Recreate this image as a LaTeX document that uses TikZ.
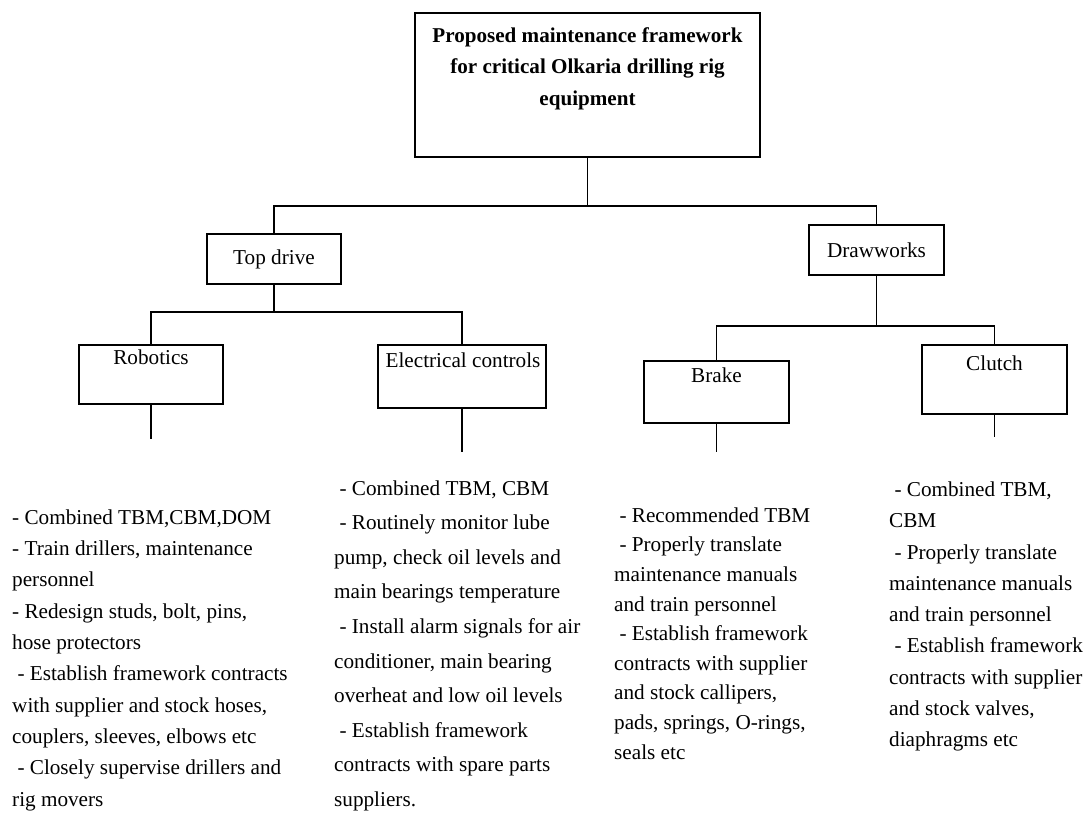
\documentclass[tikz,border=0pt]{standalone}
\usepackage{fontspec}
\setmainfont{Liberation Serif}
\begin{document}
\begin{tikzpicture}[x=1pt,y=-1pt,
  box/.style={draw,line width=1.8pt,inner sep=0pt},
  conn/.style={line width=1.8pt},
  lbl/.style={inner sep=0pt,font=\fontsize{21.2}{25}\selectfont},
  col/.style={inner sep=0pt,align=left,anchor=base west}]
\useasboundingbox (0,0) rectangle (1088,812);
% boxes
\node[box,minimum width=345pt,minimum height=144pt] (root) at (587.5,85) {};
\node[inner sep=0pt,anchor=base,align=center,font=\fontsize{21.1}{31.5}\selectfont\bfseries] (roott) at (587.5,105)
  {Proposed maintenance framework\\for critical Olkaria drilling rig\\equipment};
\node[box,minimum width=134pt,minimum height=50pt] (td) at (274,259) {};
\node[lbl] (tdt) at (td.center) {Top drive};
\node[box,minimum width=135pt,minimum height=50pt] (dw) at (876.5,250) {};
\node[lbl] (dwt) at (dw.center) {Drawworks};
\node[box,minimum width=144pt,minimum height=59pt] (rob) at (151,374.5) {};
\node[lbl,anchor=base] (robt) at (151,364) {Robotics};
\node[box,minimum width=168pt,minimum height=63pt] (ele) at (462,376.5) {};
\node[lbl,anchor=base] (elet) at (463,367) {Electrical controls};
\node[box,minimum width=145pt,minimum height=62pt] (brk) at (716.5,392) {};
\node[lbl,anchor=base] (brkt) at (716.5,382) {Brake};
\node[box,minimum width=145pt,minimum height=69pt] (clu) at (994.5,379.5) {};
\node[lbl,anchor=base] (clut) at (994.5,370) {Clutch};
% junctions
\coordinate (j0) at (587.5,206);
\coordinate (j1) at (274,312);
\coordinate (j2) at (876.5,326);
\coordinate (e1) at (151,439);
\coordinate (e2) at (462,452);
\coordinate (e3) at (716.5,452);
\coordinate (e4) at (994.5,437);
% connectors
\draw[conn] (root.south) -- (j0);
\draw[conn] (td.north) |- (j0) -| (dw.north);
\draw[conn] (td.south) -- (j1);
\draw[conn] (rob.north) |- (j1) -| (ele.north);
\draw[conn] (dw.south) -- (j2);
\draw[conn] (brk.north) |- (j2) -| (clu.north);
\draw[conn] (rob.south) -- (e1);
\draw[conn] (ele.south) -- (e2);
\draw[conn] (brk.south) -- (e3);
\draw[conn] (clu.south) -- (e4);
% text columns (anchored at the baseline of the last line)
\node[col,font=\fontsize{21.2}{31.3}\selectfont] (c1) at (12,806) {%
- Combined TBM,CBM,DOM\\
- Train drillers, maintenance\\
personnel\\
- Redesign studs, bolt, pins,\\
hose protectors\\
\ - Establish framework contracts\\
with supplier and stock hoses,\\
couplers, sleeves, elbows etc\\
\ - Closely supervise drillers and\\
rig movers};
\node[col,font=\fontsize{21.2}{34.6}\selectfont] (c2) at (334,806.5) {%
\ - Combined TBM, CBM\\
\ - Routinely monitor lube\\
pump, check oil levels and\\
main bearings temperature\\
\ - Install alarm signals for air\\
conditioner, main bearing\\
overheat and low oil levels\\
\ - Establish framework\\
contracts with spare parts\\
suppliers.};
\node[col,font=\fontsize{21.2}{29.6}\selectfont] (c3) at (614,759) {%
\ - Recommended TBM\\
\ - Properly translate\\
maintenance manuals\\
and train personnel\\
\ - Establish framework\\
contracts with supplier\\
and stock callipers,\\
pads, springs, O-rings,\\
seals etc};
\node[col,font=\fontsize{21.2}{31.25}\selectfont] (c4) at (889,746.5) {%
\ - Combined TBM,\\
CBM\\
\ - Properly translate\\
maintenance manuals\\
and train personnel\\
\ - Establish framework\\
contracts with supplier\\
and stock valves,\\
diaphragms etc};
\end{tikzpicture}
\end{document}
